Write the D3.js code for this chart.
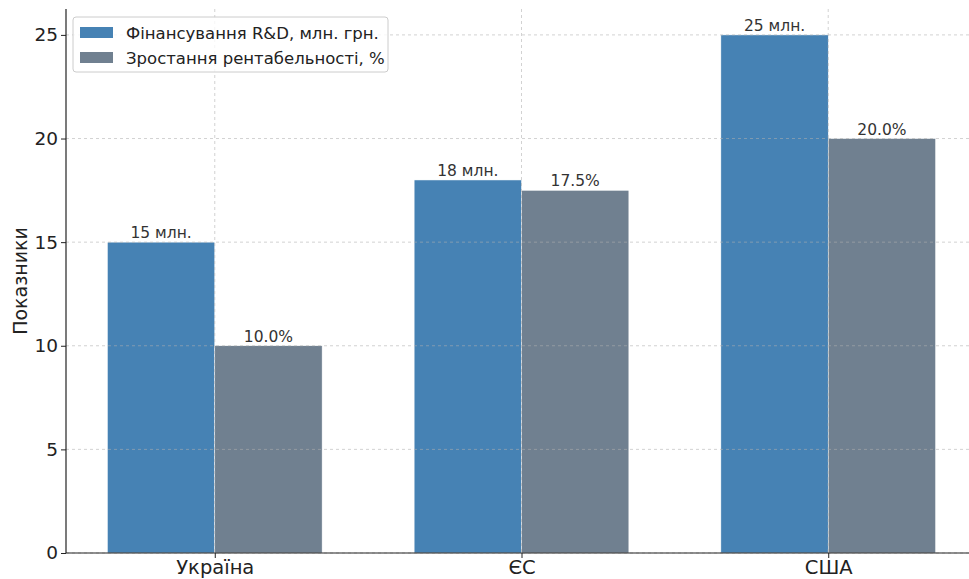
<!DOCTYPE html>
<html>
<head>
<meta charset="utf-8">
<script src="https://cdn.jsdelivr.net/npm/d3@7"></script>
<style>
  html, body { margin: 0; padding: 0; background: #fff; }
  svg { display: block; font-family: "DejaVu Sans", sans-serif; }
</style>
</head>
<body>
<svg id="chart" width="969" height="579"></svg>
<script>
// Categories and series
const categories = ["Україна", "ЄС", "США"];
const seriesNames = ["Фінансування R&D, млн. грн.", "Зростання рентабельності, %"];
const rdFunding = [15, 18, 25];
const profitGrowth = [10.0, 17.5, 20.0];
const yTicks = [0, 5, 10, 15, 20, 25];
const colors = ["#4682B4", "#708090"];

const svg = d3.select("#chart");
const plot = { left: 66, right: 977, top: 9, bottom: 553 };
const barW = 0.35;

// Continuous x scale on category index, with matplotlib-style margins
const x = d3.scaleLinear().domain([-0.485, 2.485]).range([plot.left, plot.right]);
const y = d3.scaleLinear().domain([0, 26.25]).range([plot.bottom, plot.top]);

const g = svg.append("g");

const series = [
  { name: seriesNames[0], values: rdFunding, offset: -barW, color: colors[0], fmt: v => `${v} млн.` },
  { name: seriesNames[1], values: profitGrowth, offset: 0, color: colors[1], fmt: v => `${v.toFixed(1)}%` }
];

// Bars
series.forEach(s => {
  g.selectAll(null).data(s.values).enter().append("rect")
    .attr("x", (d, i) => x(i + s.offset))
    .attr("y", d => y(d))
    .attr("width", (d, i) => x(i + s.offset + barW) - x(i + s.offset))
    .attr("height", d => y(0) - y(d))
    .attr("fill", s.color)
    .attr("stroke", "#fff")
    .attr("stroke-width", 0.5);
});

// Grid drawn above the bars
const grid = g.append("g").attr("stroke", "#b0b0b0").attr("stroke-width", 0.8)
  .attr("stroke-dasharray", "3,3").attr("opacity", 0.7);
yTicks.forEach(t => {
  grid.append("line").attr("x1", plot.left).attr("x2", plot.right)
    .attr("y1", y(t)).attr("y2", y(t));
});
categories.forEach((c, i) => {
  grid.append("line").attr("x1", x(i)).attr("x2", x(i))
    .attr("y1", plot.top).attr("y2", plot.bottom);
});

// Value labels
series.forEach(s => {
  g.selectAll(null).data(s.values).enter().append("text")
    .attr("x", (d, i) => x(i + s.offset + barW / 2))
    .attr("y", d => y(d) - 4)
    .attr("text-anchor", "middle")
    .attr("font-size", 15.5)
    .attr("fill", "#333")
    .text(d => s.fmt(d));
});

// Axes
const yAxis = d3.axisLeft(y).tickValues(yTicks).tickSize(5).tickPadding(3).tickFormat(d3.format("d"));
const ya = svg.append("g").attr("transform", `translate(${plot.left},0)`).call(yAxis);
ya.select(".domain").attr("stroke", "#222").attr("stroke-width", 1.2).attr("d", `M0,${plot.top}V${plot.bottom}`);
ya.selectAll(".tick line").attr("stroke", "#222").attr("stroke-width", 1);
ya.selectAll(".tick text").attr("font-size", 18.5).attr("fill", "#222").attr("font-family", "DejaVu Sans");

const xAxis = d3.axisBottom(x).tickValues([0, 1, 2]).tickSize(5).tickPadding(2).tickFormat(i => categories[i]);
const xa = svg.append("g").attr("transform", `translate(0,${plot.bottom})`).call(xAxis);
xa.select(".domain").attr("stroke", "#222").attr("stroke-width", 1.2).attr("d", `M${plot.left},0H${plot.right}`);
xa.selectAll(".tick line").attr("stroke", "#222").attr("stroke-width", 1);
xa.selectAll(".tick text").attr("font-size", 19.5).attr("fill", "#222").attr("font-family", "DejaVu Sans");

// Y axis title
svg.append("text")
  .attr("transform", `translate(27,${(plot.top + plot.bottom) / 2}) rotate(-90)`)
  .attr("text-anchor", "middle")
  .attr("font-size", 19)
  .attr("fill", "#222")
  .text("Показники");

// Legend
const lg = svg.append("g").attr("transform", "translate(73,17)");
lg.append("rect").attr("width", 315).attr("height", 55).attr("rx", 3)
  .attr("fill", "#fff").attr("fill-opacity", 0.8).attr("stroke", "#ccc").attr("stroke-width", 1);
series.forEach((s, i) => {
  lg.append("rect").attr("x", 7).attr("y", 10 + i * 25).attr("width", 33).attr("height", 11).attr("fill", s.color);
  lg.append("text").attr("x", 53).attr("y", 21.5 + i * 25).attr("font-size", 16.5).attr("fill", "#222").text(s.name);
});
</script>
</body>
</html>
